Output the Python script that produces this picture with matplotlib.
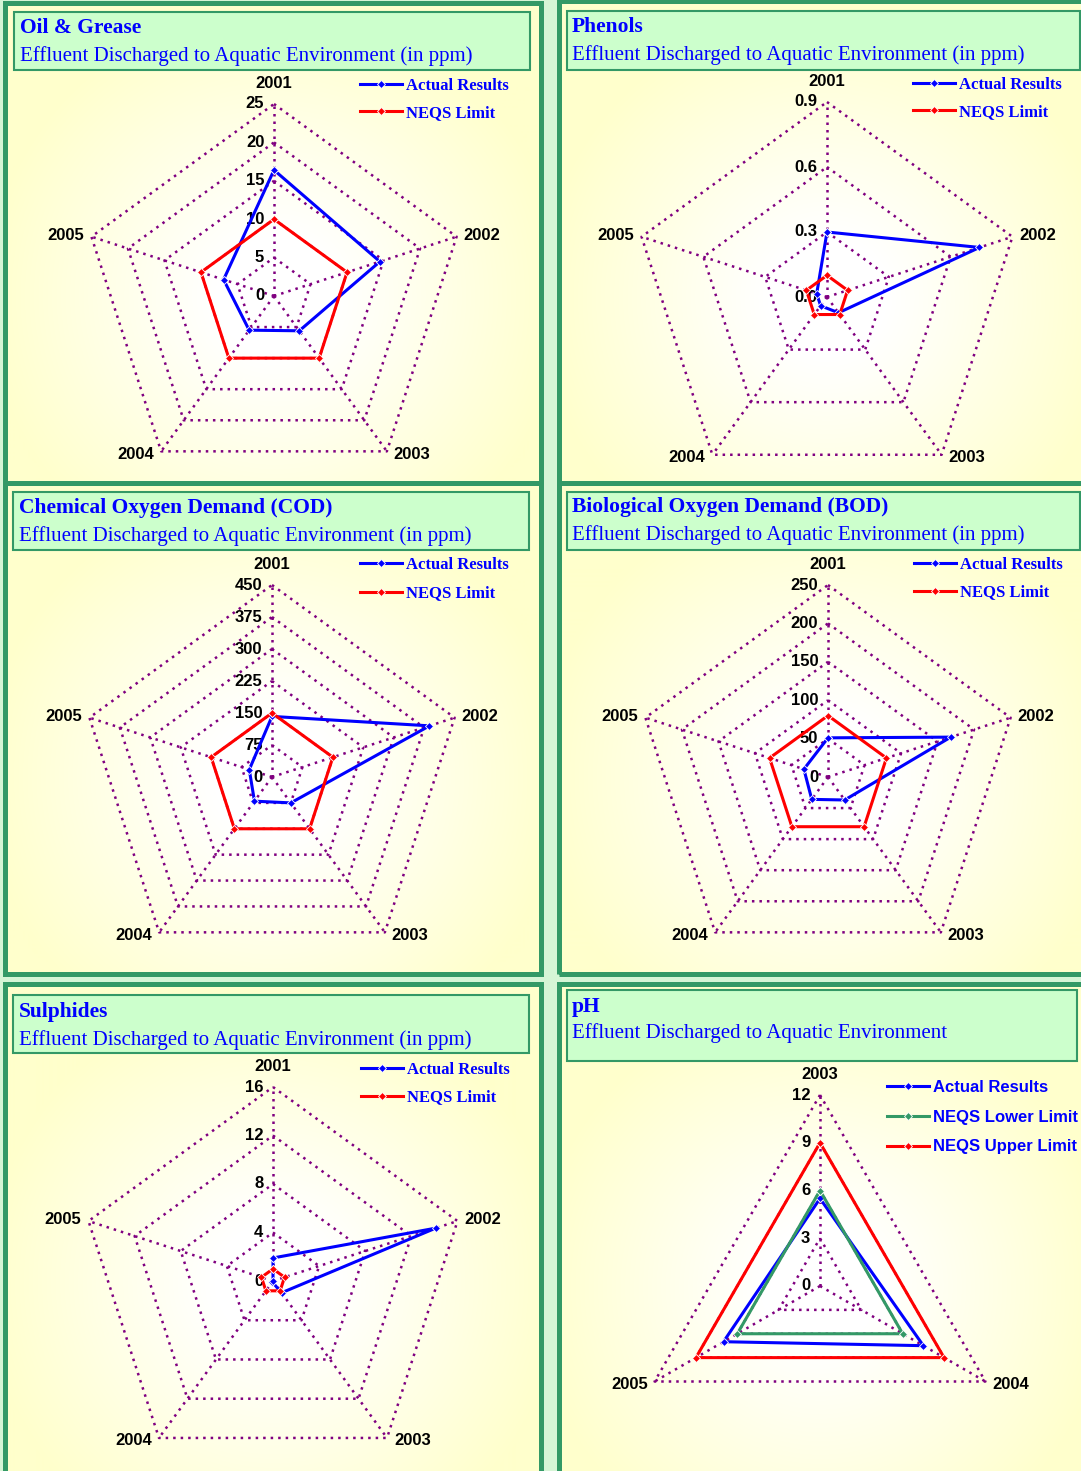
import numpy as np
import matplotlib
matplotlib.use('Agg')
import matplotlib.pyplot as plt
from matplotlib.patches import Rectangle

W, H = 1081, 1471

# ---- data ----
years5 = ['2001', '2002', '2003', '2004', '2005']
years_ph = ['2003', '2004', '2005']

oil_actual = [16.4, 14.5, 5.6, 5.5, 6.9]
oil_limit = [10, 10, 10, 10, 10]

phenol_actual = [0.30, 0.74, 0.09, 0.05, 0.05]
phenol_limit = [0.1, 0.1, 0.1, 0.1, 0.1]

cod_actual = [142, 388, 75, 70, 56]
cod_limit = [150, 150, 150, 150, 150]

bod_actual = [51, 168, 37, 36, 33]
bod_limit = [80, 80, 80, 80, 80]

sulphide_actual = [1.9, 14.1, 1.2, 0.1, 0.0]
sulphide_limit = [1.0, 1.0, 1.0, 1.0, 1.0]

ph_actual = [5.5, 7.5, 7.0]
ph_lower = [6, 6, 6]
ph_upper = [9, 9, 9]

# ---- colours ----
YELLOW = np.array([1.0, 1.0, 0.8])
BORDER = '#339966'
TITLE_BG = '#CCFFCC'
GAP = '#D6F5D6'
PURPLE = '#800080'
BLUE = '#0000FF'
RED = '#FF0000'
LOWER = '#339966'

SERIF = 'Liberation Serif'
SANS = 'Liberation Sans'

fig = plt.figure(figsize=(W / 100, H / 100), dpi=100, facecolor=GAP)


def frac(x0, y0, x1, y1):
    # pixel box (top-left origin) -> figure fraction rect
    return [x0 / W, 1 - y1 / H, (x1 - x0) / W, (y1 - y0) / H]


def panel(x0, y0, x1, y1, cx, cy):
    ax = fig.add_axes(frac(x0, y0, x1, y1))
    X, Y = np.meshgrid(np.arange(x0, x1), np.arange(y0, y1))
    d = np.hypot(X - cx, Y - cy)
    t = np.clip((d - 60) / 230, 0, 1)[..., None]
    img = (1 - t) * np.ones(3) + t * YELLOW
    ax.imshow(img, extent=(0, 1, 0, 1), aspect='auto', origin='upper')
    ax.set_xlim(0, 1)
    ax.set_ylim(0, 1)
    ax.axis('off')
    ax.add_patch(Rectangle((0, 0), 1, 1, transform=ax.transAxes, fill=False,
                           ec=BORDER, lw=3.6, clip_on=False))


def title_box(x0, y0, x1, y1, title, subtitle, tx, ty1, ty2):
    fig.add_artist(Rectangle((x0 / W, 1 - y1 / H), (x1 - x0) / W, (y1 - y0) / H,
                             transform=fig.transFigure, fc=TITLE_BG, ec=BORDER, lw=1.5))
    fig.text(tx / W, 1 - ty1 / H, title, color=BLUE, fontsize=15.5, fontweight='bold',
             family=SERIF, va='center', ha='left')
    fig.text(tx / W, 1 - ty2 / H, subtitle, color=BLUE, fontsize=15,
             family=SERIF, va='center', ha='left')


def radar(cx, cy, R, cats, vmax, step, fmt, series, leg_x, leg_y, leg_family, leg_space):
    L = 250
    ax = fig.add_axes(frac(cx - L, cy - L, cx + L, cy + L))
    lim = vmax * L / R
    ax.set_xlim(-lim, lim)
    ax.set_ylim(-lim, lim)
    ax.axis('off')
    ax.patch.set_alpha(0)

    n = len(cats)
    ang = np.arange(n) * 2 * np.pi / n
    sx, sy = np.sin(ang), np.cos(ang)
    cxs, cys = np.append(sx, sx[0]), np.append(sy, sy[0])
    levels = np.arange(step, vmax + step * 0.5, step)
    dots = (0, (1, 2))
    for lv in levels:
        ax.plot(cxs * lv, cys * lv, color=PURPLE, lw=1.8, ls=dots, zorder=1)
    for i in range(n):
        ax.plot([0, sx[i] * vmax], [0, sy[i] * vmax], color=PURPLE, lw=1.8, ls=dots, zorder=1)

    for lv in np.concatenate([[0], levels]):
        ax.annotate(fmt(lv), (0, lv), xytext=(-7, 0), textcoords='offset points',
                    ha='right', va='center', fontsize=12, fontweight='bold', family=SANS)

    for i, c in enumerate(cats):
        x, y = sx[i] * vmax, sy[i] * vmax
        if abs(sx[i]) < 1e-6:
            off, ha = (0, 15), 'center'
        elif sy[i] > 0:
            off, ha = (5 if sx[i] > 0 else -5, 1), ('left' if sx[i] > 0 else 'right')
        else:
            off, ha = (5 if sx[i] > 0 else -5, -2), ('left' if sx[i] > 0 else 'right')
        ax.annotate(c, (x, y), xytext=off, textcoords='offset points', ha=ha,
                    va='center', fontsize=12, fontweight='bold', family=SANS)

    handles = []
    for vals, color, label in series:
        v = np.append(vals, vals[0])
        line, = ax.plot(v * cxs, v * cys, color=color, lw=2.2, marker='D', ms=4.5,
                        mec='white', mew=0.6, label=label, zorder=3)
        handles.append(line)

    leg = ax.legend(handles=handles, loc='upper left',
                    bbox_to_anchor=(leg_x / W, 1 - leg_y / H), bbox_transform=fig.transFigure,
                    frameon=False, numpoints=1, handlelength=2.5, handletextpad=0.25,
                    borderpad=0, borderaxespad=0, labelspacing=leg_space,
                    prop={'family': leg_family, 'weight': 'bold', 'size': 12})
    for t in leg.get_texts():
        t.set_color(BLUE)


sub = 'Effluent Discharged to Aquatic Environment (in ppm)'
fmt_int = lambda v: '{:g}'.format(v)
fmt_1 = lambda v: '{:.1f}'.format(v)

# panel frames
panel(5, 3, 541, 483, 274, 296)
panel(559, 1, 1090, 483, 827, 297)
panel(5, 483, 541, 974, 272, 777)
panel(559, 483, 1090, 974, 828, 777)
panel(5, 984, 541, 1480, 273, 1281)
panel(559, 984, 1090, 1480, 820, 1286)

title_box(14, 12, 530, 70, 'Oil & Grease', sub, 20, 28, 56)
title_box(567, 11, 1080, 70, 'Phenols', sub, 572, 27, 55)
title_box(13, 492, 529, 550, 'Chemical Oxygen Demand (COD)', sub, 19, 508, 536)
title_box(567, 492, 1080, 550, 'Biological Oxygen Demand (BOD)', sub, 572, 507, 535)
title_box(13, 995, 529, 1053, 'Sulphides', sub, 19, 1012, 1040)
title_box(567, 990, 1077, 1061, 'pH', 'Effluent Discharged to Aquatic Environment', 572, 1007, 1033)

radar(274, 296, 192, years5, 25, 5, fmt_int,
      [(oil_actual, BLUE, 'Actual Results'), (oil_limit, RED, 'NEQS Limit')],
      360, 78, SERIF, 0.68)
radar(827, 297, 195, years5, 0.9, 0.3, fmt_1,
      [(phenol_actual, BLUE, 'Actual Results'), (phenol_limit, RED, 'NEQS Limit')],
      913, 77, SERIF, 0.68)
radar(272, 777, 192, years5, 450, 75, fmt_int,
      [(cod_actual, BLUE, 'Actual Results'), (cod_limit, RED, 'NEQS Limit')],
      360, 557, SERIF, 0.75)
radar(828, 777, 192, years5, 250, 50, fmt_int,
      [(bod_actual, BLUE, 'Actual Results'), (bod_limit, RED, 'NEQS Limit')],
      914, 557, SERIF, 0.68)
radar(273, 1281, 194, years5, 16, 4, fmt_int,
      [(sulphide_actual, BLUE, 'Actual Results'), (sulphide_limit, RED, 'NEQS Limit')],
      361, 1062, SERIF, 0.68)
radar(820, 1286, 191, years_ph, 12, 3, fmt_int,
      [(ph_actual, BLUE, 'Actual Results'), (ph_lower, LOWER, 'NEQS Lower Limit'),
       (ph_upper, RED, 'NEQS Upper Limit')],
      887, 1080, SANS, 0.88)

fig.savefig('out.png', dpi=100, facecolor=fig.get_facecolor())
